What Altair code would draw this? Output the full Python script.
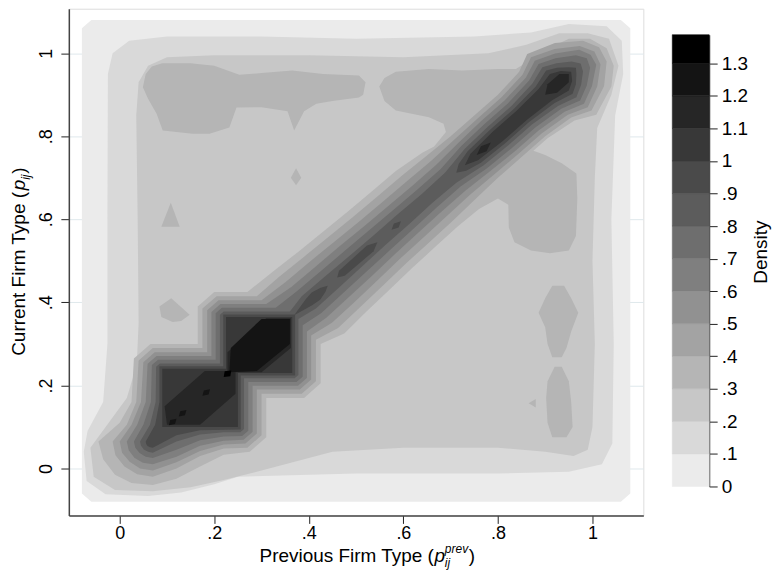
import altair as alt
import pandas as pd

# ---------------- values ----------------
# contour bands: 0 = [0,.1), 1 = [.1,.2) ... 13 = [1.3, max]
LEVELS = [0.0, 0.1, 0.2, 0.3, 0.4, 0.5, 0.6, 0.7, 0.8, 0.9, 1.0, 1.1, 1.2, 1.3]
DENSITY_MAX = 1.388
BAND_COLORS = ["#ebebeb", "#d9d9d9", "#c7c7c7", "#b5b5b5", "#a3a3a3", "#919191",
               "#7f7f7f", "#6e6e6e", "#5c5c5c", "#4a4a4a", "#383838", "#262626",
               "#141414", "#000000"]
AXIS_TICKS = [0.0, 0.2, 0.4, 0.6, 0.8, 1.0]
X_DOMAIN = [-0.1076, 1.1076]
Y_DOMAIN = [-0.113, 1.107]

# outer contour regions (x, y)
BAND0_AREA = [(-0.06, -0.08), (1.06, -0.08), (1.08, -0.06), (1.08, 1.06), (1.06, 1.08),
              (-0.06, 1.08), (-0.08, 1.06), (-0.08, -0.06)]
BAND1_AREA = [(0.25, -0.02), (0.5, -0.012), (0.8, -0.012), (0.95, -0.008), (1.02, 0.01),
              (1.042, 0.06), (1.045, 0.3), (1.04, 0.6), (1.048, 0.85), (1.065, 0.95),
              (1.062, 1.03), (1.03, 1.065), (0.95, 1.07), (0.87, 1.05), (0.75, 1.04),
              (0.5, 1.035), (0.3, 1.04), (0.1, 1.04), (0.02, 1.03), (-0.015, 1.0),
              (-0.025, 0.95), (-0.026, 0.6), (-0.026, 0.3), (-0.035, 0.16), (-0.068, 0.09),
              (-0.076, 0.04), (-0.07, -0.03), (-0.03, -0.062), (0.06, -0.066),
              (0.13, -0.058), (0.2, -0.038)]
BAND2_AREA = [(0.3, -0.005), (0.45, 0.04), (0.6, 0.05), (0.8, 0.05), (0.9, 0.04), (0.96, 0.03),
              (0.99, 0.045), (1.0, 0.1), (1.005, 0.3), (1.0, 0.5), (1.005, 0.7), (1.01, 0.82),
              (1.04, 0.9), (1.055, 0.97), (1.035, 1.035), (0.99, 1.048), (0.93, 1.048),
              (0.86, 1.02), (0.78, 1.0), (0.6, 0.99), (0.4, 0.995), (0.2, 0.995), (0.1, 0.99),
              (0.06, 0.97), (0.04, 0.93), (0.035, 0.85), (0.038, 0.6), (0.04, 0.35),
              (0.036, 0.25), (0.015, 0.17), (-0.062, 0.05), (-0.055, -0.02), (-0.01, -0.052),
              (0.07, -0.055), (0.15, -0.045), (0.22, -0.028)]

# band 3 regions
BAND3_RIDGE = [(-0.01, -0.015), (0.025, -0.035), (0.07, -0.04), (0.12, -0.025), (0.17, 0.005),
               (0.22, 0.033), (0.275, 0.04), (0.31, 0.075), (0.31, 0.17), (0.39, 0.17),
               (0.425, 0.205), (0.425, 0.30), (0.475, 0.325), (0.522, 0.378), (0.57, 0.43),
               (0.618, 0.482), (0.667, 0.533), (0.716, 0.584), (0.76, 0.625), (0.80, 0.65),
               (0.822, 0.635), (0.823, 0.58), (0.835, 0.545), (0.87, 0.525), (0.91, 0.518),
               (0.95, 0.525), (0.965, 0.56), (0.968, 0.65), (0.966, 0.71), (0.935, 0.735),
               (0.90, 0.755), (0.875, 0.765), (0.905, 0.795), (0.962, 0.838), (1.008, 0.852),
               (1.04, 0.92), (1.045, 0.97), (1.03, 1.012), (0.995, 1.035), (0.95, 1.035),
               (0.905, 1.01), (0.838, 0.962), (0.80, 0.962), (0.724, 0.958), (0.654, 0.962),
               (0.584, 0.955), (0.56, 0.94), (0.549, 0.92), (0.56, 0.885), (0.584, 0.862),
               (0.654, 0.846), (0.685, 0.83), (0.69, 0.81), (0.665, 0.775), (0.64, 0.76),
               (0.584, 0.716), (0.533, 0.667), (0.482, 0.618), (0.43, 0.57), (0.378, 0.522),
               (0.325, 0.475), (0.27, 0.425), (0.20, 0.425), (0.165, 0.39), (0.165, 0.30),
               (0.065, 0.30), (0.03, 0.265), (0.025, 0.16), (0.0, 0.11), (-0.045, 0.065),
               (-0.035, 0.022)]
BAND3_TOP = [(0.049, 0.918), (0.055, 0.95), (0.068, 0.968), (0.09, 0.976), (0.15, 0.976),
             (0.2, 0.97), (0.253, 0.948), (0.3, 0.952), (0.365, 0.958), (0.43, 0.95),
             (0.506, 0.946), (0.52, 0.93), (0.515, 0.90), (0.506, 0.893), (0.45, 0.885),
             (0.416, 0.878), (0.39, 0.86), (0.369, 0.814), (0.355, 0.86), (0.3, 0.87),
             (0.247, 0.869), (0.232, 0.821), (0.19, 0.806), (0.154, 0.806), (0.091, 0.814),
             (0.078, 0.854), (0.06, 0.89)]
BAND3_RIGHT_UPPER = [(0.915, 0.44), (0.94, 0.44), (0.955, 0.41), (0.97, 0.375), (0.955, 0.33),
                     (0.945, 0.29), (0.935, 0.268), (0.915, 0.268), (0.905, 0.30), (0.90, 0.34),
                     (0.886, 0.375), (0.90, 0.41)]
BAND3_RIGHT_LOWER = [(0.92, 0.245), (0.935, 0.245), (0.95, 0.21), (0.955, 0.16), (0.958, 0.10),
                     (0.945, 0.075), (0.915, 0.075), (0.905, 0.11), (0.902, 0.17), (0.905, 0.21)]
BAND3_SPOTS = [
    [(0.108, 0.64), (0.127, 0.582), (0.088, 0.582)],
    [(0.373, 0.723), (0.384, 0.70), (0.373, 0.682), (0.362, 0.70)],
    [(0.109, 0.41), (0.148, 0.37), (0.13, 0.355), (0.112, 0.353), (0.088, 0.365), (0.084, 0.39)],
    [(0.865, 0.157), (0.88, 0.167), (0.88, 0.147)],
]

# inner bands: outline below/around the two dark blocks (right part, left part)
LOWER_RIGHT = {
    4: [(0.01, 0.005), (0.037, -0.014), (0.07, -0.02), (0.12, 0.0), (0.17, 0.03), (0.22, 0.048),
        (0.27, 0.05), (0.30, 0.08), (0.30, 0.18), (0.385, 0.18), (0.415, 0.21), (0.415, 0.31)],
    5: [(0.021, 0.016), (0.043, 0.0), (0.07, -0.005), (0.12, 0.015), (0.17, 0.042),
        (0.22, 0.058), (0.266, 0.06), (0.29, 0.084), (0.29, 0.19), (0.381, 0.19),
        (0.405, 0.214), (0.405, 0.32)],
    6: [(0.031, 0.026), (0.049, 0.014), (0.07, 0.01), (0.12, 0.028), (0.17, 0.055),
        (0.22, 0.067), (0.262, 0.069), (0.281, 0.088), (0.281, 0.199), (0.377, 0.199),
        (0.396, 0.218), (0.396, 0.33)],
    7: [(0.042, 0.037), (0.055, 0.028), (0.07, 0.025), (0.12, 0.045), (0.17, 0.068),
        (0.22, 0.077), (0.259, 0.078), (0.272, 0.091), (0.272, 0.208), (0.374, 0.208),
        (0.387, 0.221), (0.387, 0.345)],
    8: [(0.051, 0.046), (0.06, 0.04), (0.07, 0.038), (0.12, 0.065), (0.17, 0.082),
        (0.22, 0.087), (0.255, 0.087), (0.263, 0.095), (0.263, 0.217), (0.37, 0.217),
        (0.378, 0.225), (0.378, 0.36)],
    9: [(0.059, 0.054), (0.064, 0.051), (0.07, 0.05), (0.12, 0.08), (0.17, 0.092),
        (0.256, 0.094), (0.256, 0.224), (0.371, 0.224), (0.371, 0.37)],
}
LOWER_LEFT = {
    4: [(0.29, 0.415), (0.205, 0.415), (0.175, 0.385), (0.175, 0.29), (0.07, 0.29),
        (0.04, 0.26), (0.035, 0.16), (0.015, 0.105), (-0.015, 0.065), (-0.009, 0.032)],
    5: [(0.30, 0.405), (0.209, 0.405), (0.185, 0.381), (0.185, 0.28), (0.074, 0.28),
        (0.05, 0.256), (0.045, 0.16), (0.025, 0.105), (0.0, 0.065), (0.005, 0.038)],
    6: [(0.31, 0.396), (0.213, 0.396), (0.194, 0.377), (0.194, 0.271), (0.078, 0.271),
        (0.059, 0.252), (0.055, 0.16), (0.037, 0.105), (0.015, 0.065), (0.019, 0.044)],
    7: [(0.33, 0.387), (0.216, 0.387), (0.203, 0.374), (0.203, 0.262), (0.081, 0.262),
        (0.068, 0.249), (0.066, 0.16), (0.05, 0.105), (0.03, 0.065), (0.033, 0.05)],
    8: [(0.36, 0.378), (0.22, 0.378), (0.212, 0.37), (0.212, 0.253), (0.085, 0.253),
        (0.077, 0.245), (0.076, 0.16), (0.064, 0.105), (0.043, 0.065), (0.045, 0.055)],
    9: [(0.37, 0.371), (0.219, 0.371), (0.219, 0.246), (0.084, 0.246), (0.084, 0.16),
        (0.075, 0.105), (0.055, 0.065), (0.056, 0.059)],
}
# ridge along the diagonal: (position t on x=y, half offset e) for each band
RIDGE = {
    4: [(.40, .062), (.45, .06), (.50, .058), (.55, .056), (.60, .055), (.65, .054), (.70, .052),
        (.75, .05), (.80, .05), (.85, .05), (.90, .055), (.93, .068), (.9725, .052),
        (1.005, .025), (1.014, 0)],
    5: [(.40, .049), (.45, .048), (.50, .046), (.55, .044), (.60, .043), (.65, .042), (.70, .041),
        (.75, .042), (.80, .043), (.85, .043), (.90, .048), (.93, .06), (.965, .045),
        (.995, .022), (1.004, 0)],
    6: [(.40, .037), (.45, .036), (.50, .035), (.55, .033), (.60, .032), (.65, .031), (.70, .031),
        (.75, .034), (.80, .036), (.85, .036), (.90, .041), (.93, .052), (.96, .039),
        (.99, .018), (.996, 0)],
    7: [(.40, .026), (.45, .025), (.50, .024), (.55, .023), (.60, .022), (.65, .021), (.70, .021),
        (.75, .027), (.80, .029), (.85, .029), (.90, .034), (.93, .044), (.955, .033),
        (.98, .015), (.988, 0)],
    8: [(.40, .015), (.45, .014), (.50, .013), (.55, .012), (.60, .012), (.65, .011), (.70, .012),
        (.75, .02), (.80, .022), (.85, .022), (.90, .027), (.93, .036), (.95, .026),
        (.968, .012), (.975, 0)],
    9: [(.40, .007), (.415, .009), (.43, .005), (.44, 0)],
}
RIDGE_PIECES = [  # (band, stations) stand-alone pieces along the diagonal
    (9, [(.46, 0), (.47, .006), (.53, .007), (.545, 0)]),
    (9, [(.575, 0), (.585, .005), (.595, 0)]),
    (9, [(.712, 0), (.725, .008), (.75, .014), (.80, .016), (.85, .016), (.90, .02), (.93, .028),
         (.945, .02), (.958, .008), (.965, 0)]),
    (10, [(.73, 0), (.75, .008), (.80, .011), (.85, .011), (.90, .014), (.93, .02), (.945, .012),
          (.955, 0)]),
    (11, [(.755, 0), (.77, .006), (.785, 0)]),
    (11, [(.90, 0), (.915, .01), (.94, .01), (.95, 0)]),
    (12, [(.104, 0), (.112, .005), (.120, 0)]),
    (12, [(.125, 0), (.133, .005), (.141, 0)]),
    (12, [(.175, 0), (.183, .005), (.191, 0)]),
    (13, [(.22, 0), (.228, .006), (.236, 0)]),
]
BLOCKS_BAND10 = [(0.09, 0.10), (0.25, 0.10), (0.25, 0.23), (0.365, 0.23), (0.365, 0.365),
                 (0.225, 0.365), (0.225, 0.24), (0.09, 0.24)]
BLOCKS_BAND11 = [(0.10, 0.105), (0.17, 0.105), (0.245, 0.18), (0.245, 0.232), (0.30, 0.232),
                 (0.362, 0.29), (0.362, 0.362), (0.31, 0.362), (0.228, 0.28), (0.228, 0.235),
                 (0.18, 0.235), (0.095, 0.15)]
BLOCK2_BAND12 = [(0.232, 0.232), (0.29, 0.235), (0.36, 0.30), (0.36, 0.36), (0.30, 0.36),
                 (0.235, 0.29)]

# ---------------- build polygon table ----------------
polys = [(0, BAND0_AREA), (1, BAND1_AREA), (2, BAND2_AREA), (3, BAND3_RIDGE), (3, BAND3_TOP),
         (3, BAND3_RIGHT_UPPER), (3, BAND3_RIGHT_LOWER)]
polys += [(3, s) for s in BAND3_SPOTS]
for k in range(4, 10):
    st = RIDGE[k]
    right = [(t + e, t - e) for t, e in st]
    left = [(t - e, t + e) for t, e in reversed(st[:-1])]
    polys.append((k, LOWER_RIGHT[k] + right + left + LOWER_LEFT[k]))
polys.append((10, BLOCKS_BAND10))
polys.append((11, BLOCKS_BAND11))
polys.append((12, BLOCK2_BAND12))
for k, st in RIDGE_PIECES:
    right = [(t + e, t - e) for t, e in st]
    left = [(t - e, t + e) for t, e in reversed(st[1:-1])]
    polys.append((k, right + left))

rows = []
for pid, (band, verts) in enumerate(polys):
    for vid, (x, y) in enumerate(verts):
        rows.append({"pid": pid, "band": band, "vid": vid, "x": x, "y": y})
poly_df = pd.DataFrame(rows)

cbar_df = pd.DataFrame({
    "lo": LEVELS,
    "hi": LEVELS[1:] + [DENSITY_MAX],
    "band": list(range(len(LEVELS))),
})

FONT = "Liberation Sans"
FS = 18
TFS = 19
LABEL_EXPR = ("datum.value == 0 ? '0' : (datum.value >= 1 ? format(datum.value, '.1~f') : "
              "slice(format(datum.value, '.1f'), 1))")
cscale = alt.Scale(domain=list(range(len(BAND_COLORS))), range=BAND_COLORS)
W, H = 576, 508

x_enc = alt.X("x:Q", scale=alt.Scale(domain=X_DOMAIN, nice=False, zero=False),
              axis=alt.Axis(values=AXIS_TICKS, labelExpr=LABEL_EXPR, title=None, grid=False,
                            tickSize=8, tickColor="#222", domainColor="#444", domainWidth=1.5,
                            labelFont=FONT, labelFontSize=FS, labelColor="black", labelPadding=1))
y_enc = alt.Y("y:Q", scale=alt.Scale(domain=Y_DOMAIN, nice=False, zero=False),
              axis=alt.Axis(values=AXIS_TICKS, labelExpr=LABEL_EXPR, title=None, grid=True,
                            gridColor="#dfe8ec", gridWidth=1,
                            tickSize=8, tickColor="#222", domainColor="#444", domainWidth=1.5,
                            labelFont=FONT, labelFontSize=FS, labelColor="black",
                            labelAngle=270, labelAlign="center", labelBaseline="bottom",
                            labelPadding=5))

band_layers = []
for k in range(len(BAND_COLORS)):
    if not (poly_df["band"] == k).any():
        continue
    band_layers.append(
        alt.Chart(poly_df).transform_filter(alt.datum.band == k).mark_line(
            filled=True, interpolate="linear-closed", strokeWidth=0
        ).encode(
            x=x_enc, y=y_enc,
            order=alt.Order("vid:Q"),
            detail="pid:N",
            color=alt.Color("band:O", scale=cscale, legend=None),
        )
    )
density = alt.layer(*band_layers)

cbar = alt.Chart(cbar_df).mark_rect(strokeWidth=0.5).encode(
    x=alt.value(605),
    x2=alt.value(642),
    y=alt.Y("lo:Q", scale=alt.Scale(domain=[0, DENSITY_MAX], range=[479, 26], nice=False, zero=False),
            axis=alt.Axis(orient="right", offset=66, values=LEVELS, labelExpr=LABEL_EXPR, title=None,
                          grid=False, tickSize=8, tickColor="#222", domainColor="#444",
                          domainWidth=1.2, labelFont=FONT, labelFontSize=TFS, labelColor="black",
                          labelPadding=4)),
    y2="hi",
    color=alt.Color("band:O", scale=cscale, legend=None),
    stroke=alt.Stroke("band:O", scale=cscale, legend=None),
)


def label(text, x, y, size=TFS, italic=False, angle=0, align="left", baseline="alphabetic"):
    mk = dict(text=text, font=FONT, fontSize=size, align=align, baseline=baseline, color="black")
    if italic:
        mk["fontStyle"] = "italic"
    if angle:
        mk["angle"] = angle
    return alt.Chart(alt.Data(values=[{}])).mark_text(**mk).encode(x=alt.value(x), y=alt.value(y))


xb = 555
xs = 366
x_title = [
    label("Previous Firm Type (", xs, xb, align="right"),
    label("p", xs + 0.5, xb, italic=True),
    label("ij", xs + 11, xb + 5, size=12, italic=True),
    label("prev", xs + 11, xb - 9, size=12, italic=True),
    label(")", xs + 35, xb),
]
yb = -44
y_title = [
    label("Current Firm Type (", yb, 348, angle=270),
    label("p", yb, 182, italic=True, angle=270),
    label("ij", yb + 5, 171.5, size=12, italic=True, angle=270),
    label(")", yb, 165.5, angle=270),
]
dens_title = label("Density", 694, 244, angle=270, align="center", baseline="middle")

chart = alt.layer(density, cbar, *x_title, *y_title, dens_title).resolve_scale(
    y="independent"
).properties(
    width=W, height=H,
    padding={"left": 61, "top": 0, "right": 130, "bottom": 55},
    autosize=alt.AutoSizeParams(type="none"),
).configure_view(strokeWidth=0).configure(background="white")

chart.save("out.html", embed_options={"renderer": "svg", "actions": False})
